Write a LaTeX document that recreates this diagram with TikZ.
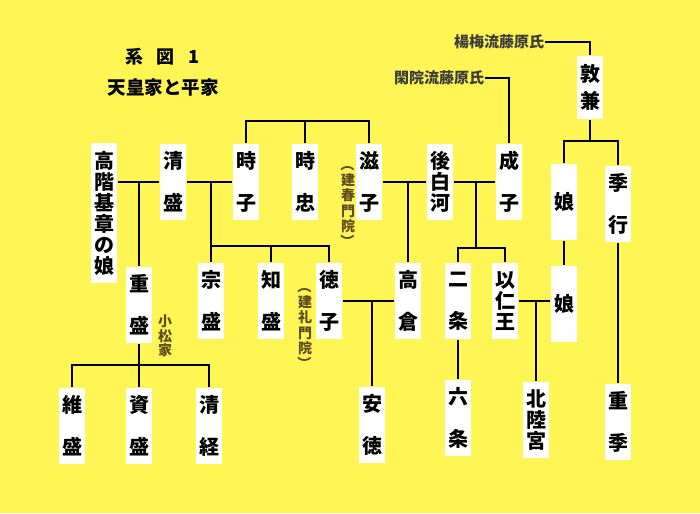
\documentclass[tikz,border=0pt]{standalone}
\usepackage{fontspec}
\newfontfamily\jp{Noto Sans CJK JP}
\definecolor{kiiro}{RGB}{255,246,85}
\definecolor{chairo}{RGB}{95,75,30}
\definecolor{nezumi}{RGB}{60,60,60}
\newcommand\tatel{\rotatebox[origin=c]{-90}{（}}
\newcommand\tater{\rotatebox[origin=c]{-90}{）}}
\begin{document}
\begin{tikzpicture}[x=1pt,y=-1pt,line width=1.8pt,
	person/.style={fill=white,inner sep=0pt,minimum width=26pt,minimum height=76pt,align=center,font=\jp\bfseries\fontsize{20}{21}\selectfont},
	note/.style={inner sep=0pt,align=center,text=chairo,font=\jp\bfseries\fontsize{14}{15.5}\selectfont},
	clan/.style={inner sep=0pt,text=nezumi,font=\jp\bfseries\fontsize{15}{17}\selectfont},
	heading/.style={inner sep=0pt,font=\jp\bfseries\fontsize{18}{20}\selectfont}]
			\fill[kiiro] (0,0) rectangle (700,513);
			\node[heading] (title) at (162,57) {系\hspace{13.5pt}図\hspace{13.5pt}1};
			\node[heading,font=\jp\bfseries\fontsize{18.5}{20}\selectfont] (subtitle) at (163,88) {天皇家と平家};
			\foreach \n/\x/\y/\a/\b in {kiyomori/173/182/清/盛, tokiko/246/182/時/子, tokitada/305/182/時/忠,
				shigeko/369/182/滋/子, nariko/509/182/成/子, sueyuki/618/204/季/行,
				shigemori/139/305/重/盛, munemori/211/301/宗/盛, tomomori/271/301/知/盛, tokuko/329/301/徳/子,
				takakura/408/301/高/倉, nijo/458/301/二/条,
				koremori/72/426/維/盛, sukemori/139/426/資/盛, kiyotsune/209/426/清/経,
				antoku/372/425/安/徳, rokujo/458/418/六/条, shigesue/618/422/重/季}
			\node[person] (\n) at (\x,\y) {\a\\[21pt]\b};
			\node[person,minimum height=140pt] (takashina) at (104,213) {高\\階\\基\\章\\の\\娘};
			\node[person] (goshirakawa) at (440,182) {後\\白\\河};
			\node[person] (mochihito) at (505,301) {以\\仁\\王};
			\node[person] (hokuriku) at (536,420) {北\\陸\\宮};
			\node[person,minimum height=63pt] (atsukane) at (590,87.5) {敦\\[6pt]兼};
			\node[person] (musume1) at (564,202) {娘};
			\node[person] (musume2) at (564,304) {娘};
			\node[note] (kenshun) at (348,203) {建\\春\\門\\院};
			\node[note,anchor=south] (kenshun-l) at (kenshun.north) {\tatel};
			\node[note,anchor=north] (kenshun-r) at (kenshun.south) {\tater};
			\node[note] (kenrei) at (305,325) {建\\礼\\門\\院};
			\node[note,anchor=south] (kenrei-l) at (kenrei.north) {\tatel};
			\node[note,anchor=north] (kenrei-r) at (kenrei.south) {\tater};
			\node[note,font=\jp\bfseries\fontsize{14}{14.5}\selectfont] (komatsu) at (165,336) {小\\松\\家};
			\node[clan,anchor=east] (yomei) at (545,42) {楊梅流藤原氏};
			\node[clan,anchor=east] (kanin) at (485,78) {閑院流藤原氏};
			\coordinate (top) at (305,121);
			\coordinate (cb) at (211,246);
			\coordinate (gb) at (476,248);
			\coordinate (ab) at (590,141);
			\coordinate (sb) at (139,365);
			\draw (yomei.east) -| (atsukane.north);
			\draw (kanin.east) -| (nariko.north);
			\draw (tokiko.north) |- (top) -| (shigeko.north);
			\draw (tokitada.north) -- (top);
			\draw (takashina.east |- kiyomori.west) -- (kiyomori.west);
			\draw (kiyomori.east) -- (tokiko.west);
			\draw (shigemori.north) -- (shigemori.north |- kiyomori.west);
			\draw (cb) -- (cb |- kiyomori.east);
			\draw (munemori.north) |- (cb) -| (tokuko.north);
			\draw (tomomori.north) -- (tomomori.north |- cb);
			\draw (shigeko.east) -- (goshirakawa.west);
			\draw (takakura.north) -- (takakura.north |- goshirakawa.west);
			\draw (goshirakawa.east) -- (nariko.west);
			\draw (gb) -- (gb |- goshirakawa.east);
			\draw (nijo.north) |- (gb) -| (mochihito.north);
			\draw (atsukane.south) -- (ab);
			\draw (musume1.north) |- (ab) -| (sueyuki.north);
			\draw (musume1.south) -- (musume2.north);
			\draw (sueyuki.south) -- (shigesue.north);
			\draw (tokuko.east) -- (takakura.west);
			\draw (antoku.north) -- (antoku.north |- tokuko.east);
			\draw (mochihito.east) -- (mochihito.east -| musume2.west);
			\draw (hokuriku.north) -- (hokuriku.north |- mochihito.east);
			\draw (nijo.south) -- (rokujo.north);
			\draw (shigemori.south) -- (sb);
			\draw (koremori.north) |- (sb) -| (kiyotsune.north);
			\draw (sukemori.north) -- (sb);
		\end{tikzpicture}
\end{document}
